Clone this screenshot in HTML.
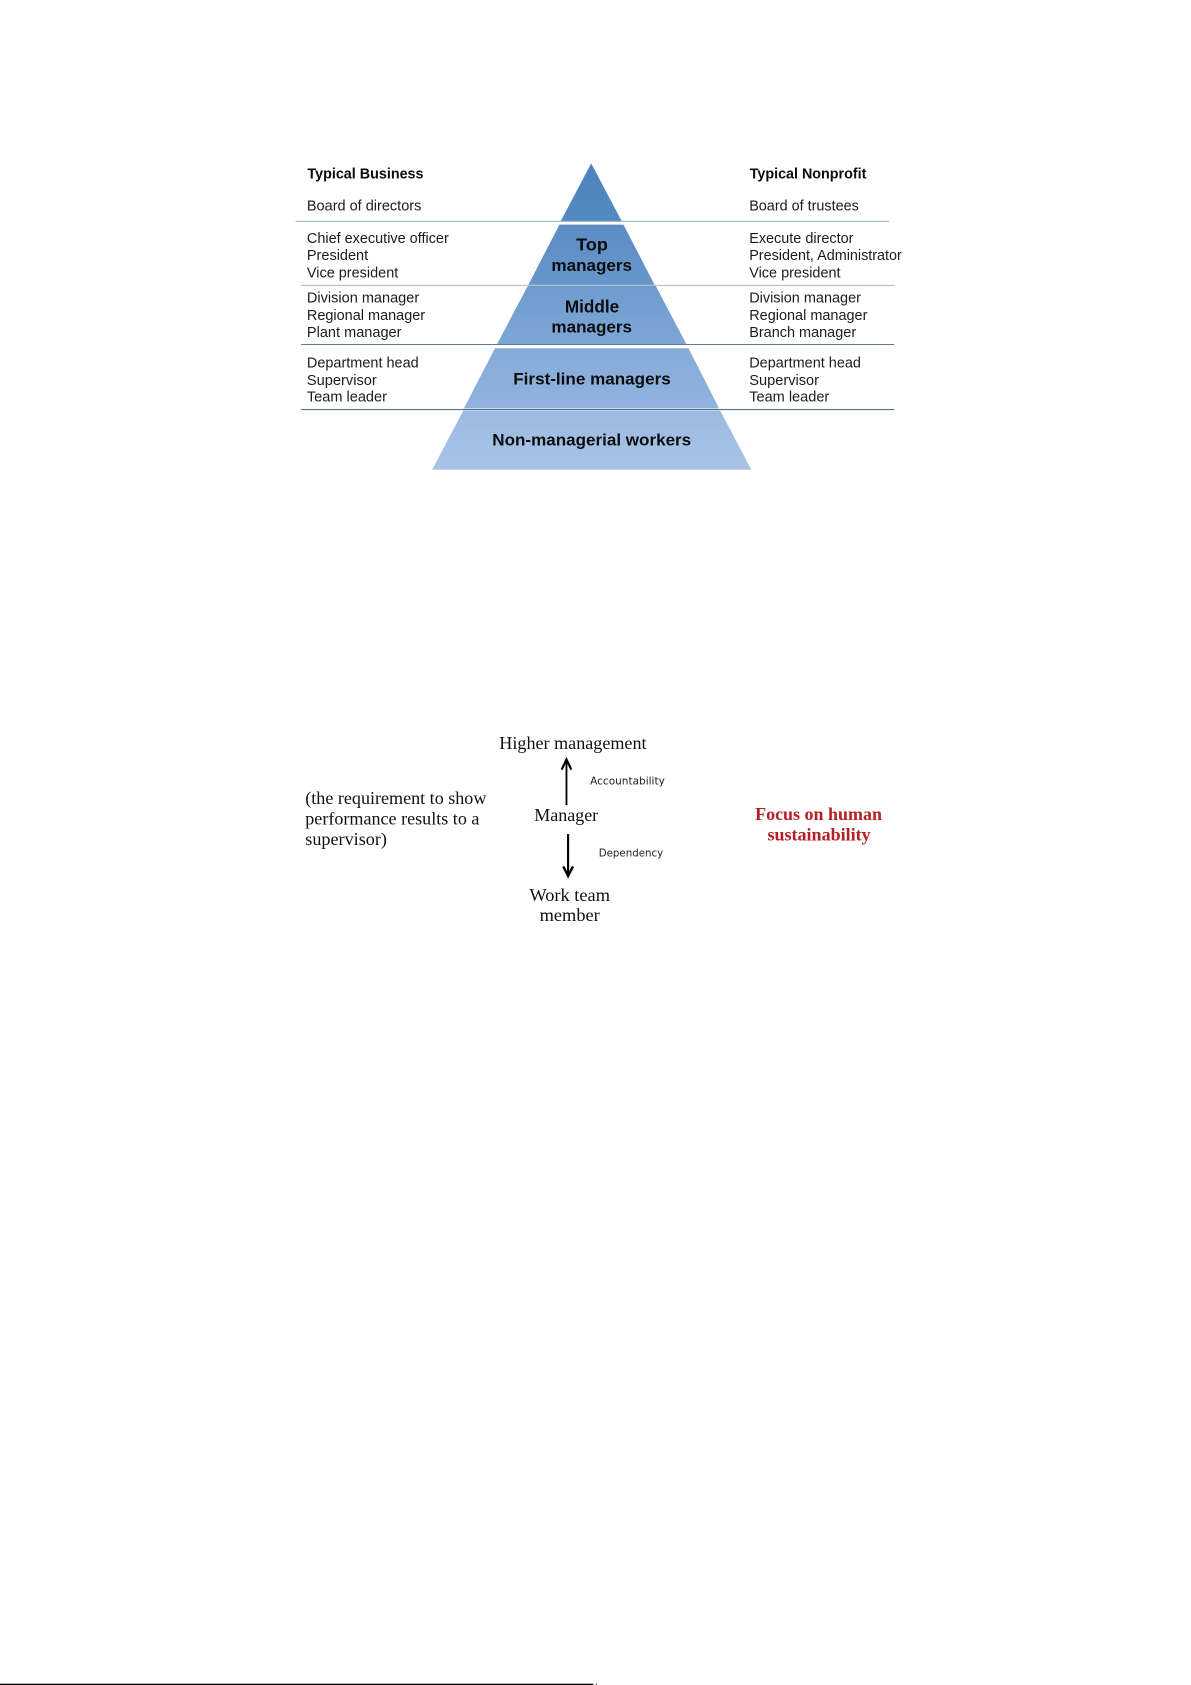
<!DOCTYPE html>
<html><head><meta charset="utf-8"><style>
html,body{margin:0;padding:0;background:#fff;width:1191px;height:1685px;overflow:hidden}
svg{display:block;position:absolute;left:0;top:0}
text{filter:blur(.35px)}
.s{font-family:"Liberation Sans",sans-serif;font-size:14px;fill:#1c1c1c}
.b{font-family:"Liberation Sans",sans-serif;font-weight:bold;fill:#0c0c0c}
.t{font-family:"Liberation Serif",serif;font-size:17px;fill:#111}
.c{font-family:"DejaVu Sans",sans-serif;font-size:10px;fill:#222}
</style></head><body>
<svg width="1191" height="1685" viewBox="0 0 1108 1567.6" xmlns="http://www.w3.org/2000/svg">
<defs>
<linearGradient id="g1" x1="0" y1="0" x2="0" y2="1"><stop offset="0" stop-color="#4c83be"/><stop offset="1" stop-color="#528ac3"/></linearGradient>
<linearGradient id="g2" x1="0" y1="0" x2="0" y2="1"><stop offset="0" stop-color="#5b8cc4"/><stop offset="1" stop-color="#6796cb"/></linearGradient>
<linearGradient id="g3" x1="0" y1="0" x2="0" y2="1"><stop offset="0" stop-color="#6e9bcf"/><stop offset="1" stop-color="#7da6d5"/></linearGradient>
<linearGradient id="g4" x1="0" y1="0" x2="0" y2="1"><stop offset="0" stop-color="#86abd9"/><stop offset="1" stop-color="#90b2dd"/></linearGradient>
<linearGradient id="g5" x1="0" y1="0" x2="0" y2="1"><stop offset="0" stop-color="#9bbae2"/><stop offset="1" stop-color="#a8c3e7"/></linearGradient>
</defs>
<rect width="1108" height="1568" fill="#fff"/>
<polygon points="550,152 578.5,206 521.5,206" fill="url(#g1)"/>
<polygon points="520.5,209 580,209 609,265 491.5,265" fill="url(#g2)"/>
<polygon points="491,266 610,266 638.5,320 462.5,320" fill="url(#g3)"/>
<polygon points="460.5,324 640.5,324 669,380 431.5,380" fill="url(#g4)"/>
<polygon points="431,382 670,382 699,437 402,437" fill="url(#g5)"/>
<line x1="275" y1="206" x2="827" y2="206" stroke="#a3bcc6" stroke-width="1"/>
<line x1="280" y1="265.5" x2="832" y2="265.5" stroke="#a3bcc6" stroke-width="1"/>
<line x1="280" y1="320.5" x2="832" y2="320.5" stroke="#5f808b" stroke-width="1"/>
<line x1="280" y1="381" x2="832" y2="381" stroke="#4f7584" stroke-width="1"/>
<text class="b" font-size="13.5" x="286" y="166" textLength="108" lengthAdjust="spacingAndGlyphs">Typical Business</text>
<text class="s" x="285.5" y="196" textLength="106.5" lengthAdjust="spacingAndGlyphs">Board of directors</text>
<text class="s" x="285.5" y="226" textLength="132" lengthAdjust="spacingAndGlyphs">Chief executive officer</text>
<text class="s" x="285.5" y="242" textLength="57" lengthAdjust="spacingAndGlyphs">President</text>
<text class="s" x="285.5" y="258" textLength="85" lengthAdjust="spacingAndGlyphs">Vice president</text>
<text class="s" x="285.5" y="281.5" textLength="104.5" lengthAdjust="spacingAndGlyphs">Division manager</text>
<text class="s" x="285.5" y="297.5" textLength="110" lengthAdjust="spacingAndGlyphs">Regional manager</text>
<text class="s" x="285.5" y="313.5" textLength="88" lengthAdjust="spacingAndGlyphs">Plant manager</text>
<text class="s" x="285.5" y="342" textLength="104" lengthAdjust="spacingAndGlyphs">Department head</text>
<text class="s" x="285.5" y="358" textLength="65" lengthAdjust="spacingAndGlyphs">Supervisor</text>
<text class="s" x="285.5" y="373.5" textLength="74.5" lengthAdjust="spacingAndGlyphs">Team leader</text>
<text class="b" font-size="13.5" x="697.5" y="166" textLength="108.5" lengthAdjust="spacingAndGlyphs">Typical Nonprofit</text>
<text class="s" x="697" y="196" textLength="102" lengthAdjust="spacingAndGlyphs">Board of trustees</text>
<text class="s" x="697" y="226" textLength="97" lengthAdjust="spacingAndGlyphs">Execute director</text>
<text class="s" x="697" y="242" textLength="142" lengthAdjust="spacingAndGlyphs">President, Administrator</text>
<text class="s" x="697" y="258" textLength="85" lengthAdjust="spacingAndGlyphs">Vice president</text>
<text class="s" x="697" y="281.5" textLength="104" lengthAdjust="spacingAndGlyphs">Division manager</text>
<text class="s" x="697" y="297.5" textLength="110" lengthAdjust="spacingAndGlyphs">Regional manager</text>
<text class="s" x="697" y="313.5" textLength="99.5" lengthAdjust="spacingAndGlyphs">Branch manager</text>
<text class="s" x="697" y="342" textLength="104" lengthAdjust="spacingAndGlyphs">Department head</text>
<text class="s" x="697" y="358" textLength="65" lengthAdjust="spacingAndGlyphs">Supervisor</text>
<text class="s" x="697" y="373.5" textLength="74.5" lengthAdjust="spacingAndGlyphs">Team leader</text>
<text class="b" font-size="16" x="536" y="233" textLength="29.5" lengthAdjust="spacingAndGlyphs">Top</text>
<text class="b" font-size="15.5" x="513" y="252" textLength="75" lengthAdjust="spacingAndGlyphs">managers</text>
<text class="b" font-size="16" x="525.5" y="290.5" textLength="50.5" lengthAdjust="spacingAndGlyphs">Middle</text>
<text class="b" font-size="15.5" x="513" y="309.5" textLength="75" lengthAdjust="spacingAndGlyphs">managers</text>
<text class="b" font-size="15.5" x="477.5" y="357.5" textLength="146.5" lengthAdjust="spacingAndGlyphs">First-line managers</text>
<text class="b" font-size="15.5" x="458" y="414.5" textLength="185" lengthAdjust="spacingAndGlyphs">Non-managerial workers</text>
<text class="t" x="464.5" y="697" textLength="137" lengthAdjust="spacingAndGlyphs">Higher management</text>
<text class="t" x="497" y="764" textLength="59.5" lengthAdjust="spacingAndGlyphs">Manager</text>
<text class="t" x="492.5" y="838" textLength="75" lengthAdjust="spacingAndGlyphs">Work team</text>
<text class="t" x="502" y="857" textLength="56" lengthAdjust="spacingAndGlyphs">member</text>
<text class="t" x="284" y="748" textLength="168.5" lengthAdjust="spacingAndGlyphs">(the requirement to show</text>
<text class="t" x="284" y="767" textLength="162" lengthAdjust="spacingAndGlyphs">performance results to a</text>
<text class="t" x="284" y="786" textLength="76" lengthAdjust="spacingAndGlyphs">supervisor)</text>
<text class="c" x="549" y="730" textLength="69.5" lengthAdjust="spacingAndGlyphs">Accountability</text>
<text class="c" x="557" y="797" textLength="60" lengthAdjust="spacingAndGlyphs">Dependency</text>
<text x="702.5" y="763" textLength="118" lengthAdjust="spacingAndGlyphs" font-family="Liberation Serif" font-weight="bold" font-size="16.5" fill="#b51f24">Focus on human</text>
<text x="714" y="782" textLength="96" lengthAdjust="spacingAndGlyphs" font-family="Liberation Serif" font-weight="bold" font-size="16.5" fill="#b51f24">sustainability</text>
<g stroke="#000" fill="none">
<line x1="527" y1="749" x2="527" y2="707" stroke-width="1.7"/>
<polyline points="522.5,716 527,706.5 531.5,716" stroke-width="2"/>
<line x1="528.5" y1="776" x2="528.5" y2="814" stroke-width="2"/>
<polyline points="524,806 528.5,815 533,806" stroke-width="2.2"/>
</g>
<rect x="0" y="1566.4" width="552" height="1.2" fill="#000"/>
<rect x="554.5" y="1566.2" width="1" height="1.4" fill="#446"/>
</svg>
</body></html>
